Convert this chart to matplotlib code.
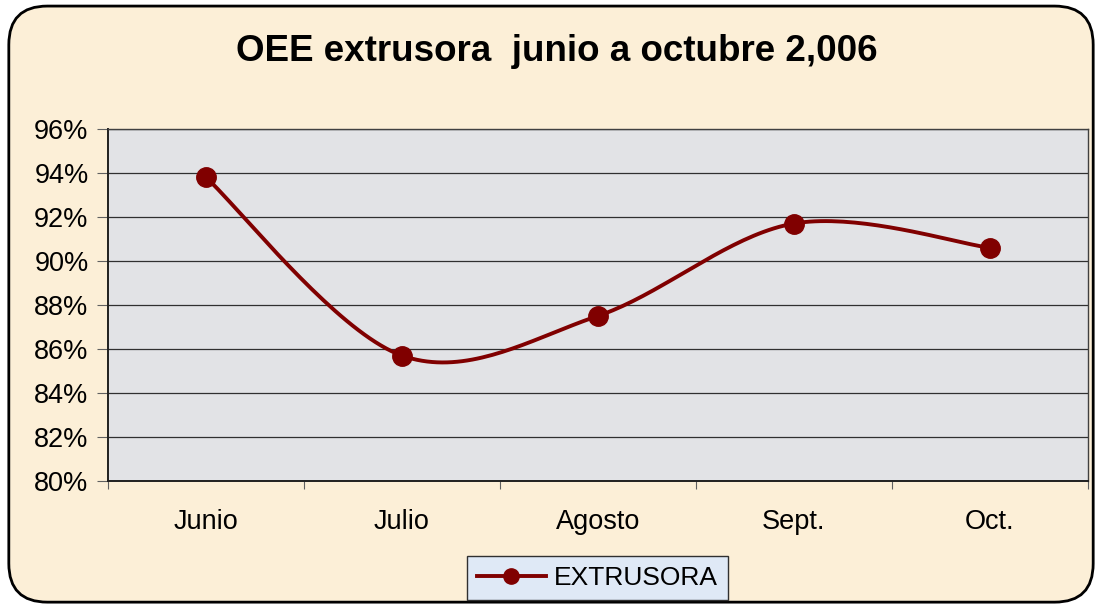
import numpy as np
import matplotlib
matplotlib.use("Agg")
import matplotlib.pyplot as plt
from matplotlib.patches import FancyBboxPatch
from matplotlib.ticker import PercentFormatter, FixedLocator

plt.rcParams['font.family'] = ['Liberation Sans', 'DejaVu Sans']

meses = ['Junio', 'Julio', 'Agosto', 'Sept.', 'Oct.']
oee = [93.8, 85.7, 87.5, 91.7, 90.6]


def excel_smooth(x, y, n=40):
    # Bezier smoothing similar to Excel's "smoothed line"
    x = np.asarray(x, float)
    y = np.asarray(y, float)
    px = np.concatenate([[x[0]], x, [x[-1]]])
    py = np.concatenate([[y[0]], y, [y[-1]]])
    xs, ys = [], []
    t = np.linspace(0, 1, n)
    for i in range(1, len(px) - 2):
        p0 = np.array([px[i], py[i]])
        p3 = np.array([px[i + 1], py[i + 1]])
        p1 = p0 + (np.array([px[i + 1], py[i + 1]]) - np.array([px[i - 1], py[i - 1]])) / 6
        p2 = p3 - (np.array([px[i + 2], py[i + 2]]) - np.array([px[i], py[i]])) / 6
        b = ((1 - t) ** 3)[:, None] * p0 + (3 * (1 - t) ** 2 * t)[:, None] * p1 \
            + (3 * (1 - t) * t ** 2)[:, None] * p2 + (t ** 3)[:, None] * p3
        xs.append(b[:, 0])
        ys.append(b[:, 1])
    return np.concatenate(xs), np.concatenate(ys)


fig = plt.figure(figsize=(11.02, 6.07), dpi=100)
fig.patch.set_facecolor('white')
border = FancyBboxPatch((0.008, 0.008), 0.984, 0.982, boxstyle="round,pad=0,rounding_size=0.035",
                        transform=fig.transFigure, facecolor='#fcefd7', edgecolor='black',
                        linewidth=2, zorder=-5, mutation_aspect=1102 / 607)
fig.patches.append(border)

ax = fig.add_axes([0.098, 0.2076, 0.889, 0.58])
ax.set_facecolor('#e2e3e6')

x = np.arange(len(meses))
sx, sy = excel_smooth(x, oee)
ax.plot(sx, sy, color='#800000', linewidth=2.8, zorder=3)
ax.plot(x, oee, 'o', color='#800000', markersize=14, zorder=4)
ax.plot([], [], '-o', color='#800000', linewidth=2.8, markersize=11, label='EXTRUSORA')

ax.set_ylim(80, 96)
ax.set_xlim(-0.5, len(meses) - 0.5)
ax.set_yticks(np.arange(80, 97, 2))
ax.yaxis.set_major_formatter(PercentFormatter(decimals=0))
ax.yaxis.grid(True, color='#303030', linewidth=0.9)
ax.set_axisbelow(True)

ax.xaxis.set_major_locator(FixedLocator(np.arange(-0.5, len(meses), 1.0)))
ax.set_xticklabels([])
ax.set_xticks(x, minor=True)
ax.set_xticklabels(meses, minor=True)
ax.tick_params(axis='x', which='minor', length=0, pad=20, labelsize=19.5)
ax.tick_params(axis='x', which='major', length=6, color='#606060')
ax.tick_params(axis='y', length=8, labelsize=19.5, pad=6, color='#606060')

for side in ['left', 'bottom']:
    ax.spines[side].set_color('#202020')
    ax.spines[side].set_linewidth(1.4)
for side in ['right', 'top']:
    ax.spines[side].set_color('#404040')
    ax.spines[side].set_linewidth(1.0)

fig.text(0.505, 0.915, 'OEE extrusora  junio a octubre 2,006', ha='center', va='center',
         fontsize=26.5, fontweight='bold')

leg = fig.legend(loc='center', bbox_to_anchor=(0.542, 0.047), fontsize=19, frameon=True,
                 fancybox=False, edgecolor='#303030', facecolor='#dfe9f6',
                 handlelength=2.6, borderpad=0.38, handletextpad=0.3)
leg.get_frame().set_linewidth(1.0)
leg.get_frame().set_alpha(1)

fig.savefig('out.png', dpi=100, facecolor=fig.get_facecolor())
